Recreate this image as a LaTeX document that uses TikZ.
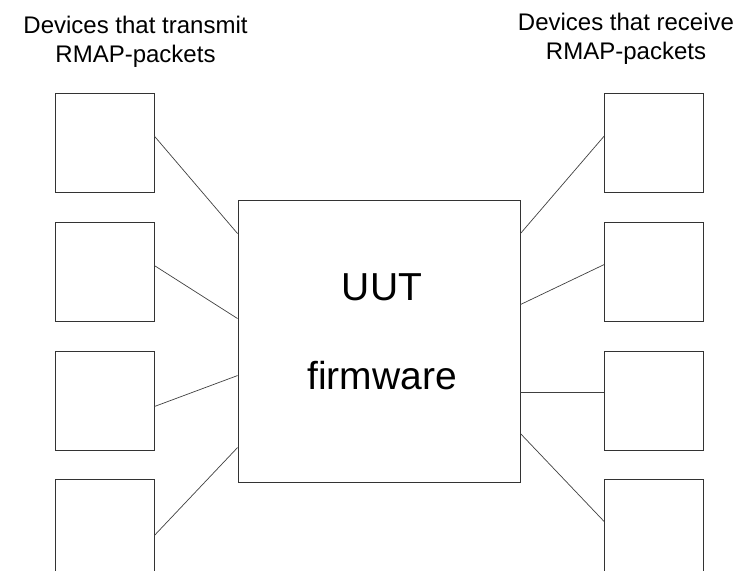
\documentclass[tikz,border=0pt]{standalone}
\usepackage{fontspec}
\setmainfont{Liberation Sans}
\usetikzlibrary{positioning}

\begin{document}
\begin{tikzpicture}[
    x=1pt, y=-1pt,
    node distance = 29pt and 1cm,
    device/.style = {draw=black!80, rectangle, minimum width=99pt, minimum height=99pt, line width=0.9pt, inner sep=0pt},
    uutbox/.style = {draw=black!80, rectangle, minimum width=282pt, minimum height=282pt, line width=0.9pt, inner sep=0pt},
    heading/.style = {align=center, inner sep=0pt, anchor=north, font=\fontsize{24}{29}\selectfont},
    link/.style = {draw=black!75, line width=0.7pt}
]
\useasboundingbox (0,0) rectangle (749,570);

% =========================================================
% CENTRE: unit under test
% =========================================================
\node[uutbox] (uut) at (379,341) {};
\node[align=center, inner sep=0pt, font=\fontsize{39}{89}\selectfont] (uutlabel)
    at ([xshift=3pt, yshift=9.5pt]uut.center) {UUT\\firmware};

% =========================================================
% LEFT COLUMN: transmitting devices
% =========================================================
\node[heading] (txhead) at (135.5,16) {Devices that transmit\\RMAP-packets};
\node[device] (tx1) at (104.5,142.7) {};
\node[device, below=of tx1] (tx2) {};
\node[device, below=of tx2] (tx3) {};
\node[device, below=of tx3] (tx4) {};

% =========================================================
% RIGHT COLUMN: receiving devices
% =========================================================
\node[heading] (rxhead) at (626,13) {Devices that receive\\RMAP-packets};
\node[device] (rx1) at (654,142.7) {};
\node[device, below=of rx1] (rx2) {};
\node[device, below=of rx2] (rx3) {};
\node[device, below=of rx3] (rx4) {};

% =========================================================
% WIRING: transmitters to UUT
% =========================================================
\draw[link] ([yshift=6.5pt]tx1.east) -- ([yshift=-34pt]uut.north west);
\draw[link] ([yshift=6pt]tx2.east) -- ([yshift=-119pt]uut.north west);
\draw[link] ([yshift=-6pt]tx3.east) -- ([yshift=-176pt]uut.north west);
\draw[link] ([yshift=-6pt]tx4.east) -- ([yshift=-248pt]uut.north west);

% =========================================================
% WIRING: UUT to receivers
% =========================================================
\draw[link] ([yshift=-34pt]uut.north east) -- ([yshift=6.5pt]rx1.west);
\draw[link] ([yshift=-105pt]uut.north east) -- ([yshift=7pt]rx2.west);
\draw[link] ([yshift=7.7pt]rx3.west) -- ([yshift=7.7pt]rx3.west -| uut.east);
\draw[link] ([yshift=-234pt]uut.north east) -- ([yshift=8pt]rx4.west);

\end{tikzpicture}
\end{document}
